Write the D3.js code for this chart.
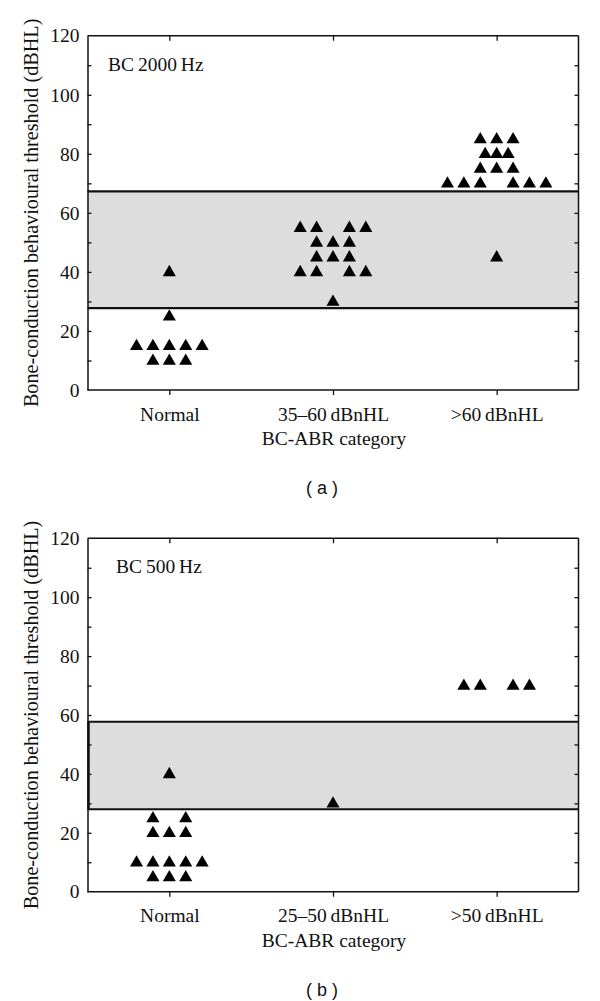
<!DOCTYPE html>
<html><head><meta charset="utf-8">
<script src="https://cdn.jsdelivr.net/npm/d3@7"></script>
<style>
body{margin:0;background:#fff}
svg{display:block}
text{font-family:"Liberation Serif","Times New Roman",serif;fill:#111}
</style></head>
<body>
<script>
// ---- data ----
const categoriesA = ["Normal", "35\u201360\u2009dBnHL", ">60\u2009dBnHL"];
const categoriesB = ["Normal", "25\u201350\u2009dBnHL", ">50\u2009dBnHL"];
const yTickValues = [0, 20, 40, 60, 80, 100, 120];
const yMinorTicks = [10, 30, 50, 70, 90, 110];
// [threshold dBHL, column slot within category]
const a_normal = [[40,0],[25,0],[15,-2],[15,-1],[15,0],[15,1],[15,2],[10,-1],[10,0],[10,1]];
const a_mid = [[55,-2],[55,-1],[55,1],[55,2],[50,-1],[50,0],[50,1],[45,-1],[45,0],[45,1],[40,-2],[40,-1],[40,1],[40,2],[30,0]];
const a_high = [[85,-1],[85,0],[85,1],[80,-0.7],[80,0],[80,0.7],[75,-1],[75,0],[75,1],[70,-3],[70,-2],[70,-1],[70,1],[70,2],[70,3],[45,0]];
const b_normal = [[40,0],[25,-1],[25,1],[20,-1],[20,0],[20,1],[10,-2],[10,-1],[10,0],[10,1],[10,2],[5,-1],[5,0],[5,1]];
const b_mid = [[30,0]];
const b_high = [[70,-2],[70,-1],[70,1],[70,2]];
const a_band = [27.7, 67.3];
const b_band = [28, 57.7];

const W = 600, H = 1001;
const svg = d3.select("body").append("svg").attr("width", W).attr("height", H);

function panel(opts) {
  const {top, bottom, cats, groups, band, title, label, leftBandEdge} = opts;
  const left = 87.5, right = 578.5;
  const x = d3.scalePoint().domain(cats).range([left, right]).padding(0.5);
  const y = d3.scaleLinear().domain([0, 120]).range([bottom, top]);
  const slot = d3.scaleLinear().domain([-1, 1]).range([-16.4, 16.4]);
  const g = svg.append("g");

  // band
  g.append("rect").attr("x", left).attr("y", y(band[1]))
    .attr("width", right - left).attr("height", y(band[0]) - y(band[1]))
    .attr("fill", "#dddddd");
  band.forEach(v => g.append("line").attr("x1", left).attr("x2", right)
    .attr("y1", y(v)).attr("y2", y(v)).attr("stroke", "#111").attr("stroke-width", 2.2));
  if (leftBandEdge) g.append("line").attr("x1", left + 1).attr("x2", left + 1)
    .attr("y1", y(band[1])).attr("y2", y(band[0])).attr("stroke", "#111").attr("stroke-width", 2.5);

  // axes
  const axL = g.append("g").attr("transform", `translate(${left},0)`)
    .call(d3.axisLeft(y).tickValues(yTickValues).tickSize(0).tickPadding(8).tickFormat(d3.format("d")));
  axL.selectAll("text").style("font-size", "19.5px").style("font-family", "Liberation Serif, serif").attr("fill", "#111");
  axL.select(".domain").attr("stroke", "#111").attr("stroke-width", 1.5);
  const allY = yTickValues.concat(yMinorTicks).filter(v => v > 0 && v < 120);
  g.append("g").attr("transform", `translate(${left},0)`)
    .call(d3.axisRight(y).tickValues(allY).tickSize(4).tickFormat(""))
    .call(s => { s.select(".domain").remove(); s.selectAll("line").attr("stroke", "#111").attr("stroke-width", 1.3); });
  g.append("g").attr("transform", `translate(${right},0)`)
    .call(d3.axisLeft(y).tickValues(allY).tickSize(4).tickFormat(""))
    .call(s => { s.select(".domain").attr("stroke", "#111").attr("stroke-width", 1.5).attr("d", `M0,${top}V${bottom}`); s.selectAll("line").attr("stroke", "#111").attr("stroke-width", 1.3); });
  const axB = g.append("g").attr("transform", `translate(0,${bottom})`)
    .call(d3.axisBottom(x).tickSize(5).tickPadding(8));
  axB.select(".domain").attr("stroke", "#111").attr("stroke-width", 1.5).attr("d", `M${left},0H${right}`);
  axB.selectAll("line").attr("stroke", "#111").attr("stroke-width", 1.3);
  axB.selectAll("text").style("font-size", "19.5px").style("font-family", "Liberation Serif, serif").attr("fill", "#111").attr("dy", "0.9em");
  const axT = g.append("g").attr("transform", `translate(0,${top})`)
    .call(d3.axisBottom(x).tickSize(5).tickFormat(""));
  axT.select(".domain").attr("stroke", "#111").attr("stroke-width", 1.5).attr("d", `M${left},0H${right}`);
  axT.selectAll("line").attr("stroke", "#111").attr("stroke-width", 1.3);

  // points
  const tri = d3.symbol(d3.symbolTriangle, 74);
  groups.forEach((pts, i) => {
    g.append("g").selectAll("path").data(pts).join("path")
      .attr("d", tri)
      .attr("transform", d => `translate(${x(cats[i]) + slot(d[1])},${y(d[0]) + 0.5})`)
      .attr("fill", "#000");
  });

  // texts
  g.append("text").attr("x", opts.titleX).attr("y", top + 35).text(title).style("font-size", "19.5px");
  g.append("text").attr("transform", `translate(38,${(top + bottom) / 2}) rotate(-90)`)
    .attr("text-anchor", "middle").style("font-size", "20.2px")
    .text("Bone-conduction behavioural threshold (dBHL)");
  g.append("text").attr("x", (left + right) / 2 + 1).attr("y", bottom + 55).attr("text-anchor", "middle")
    .style("font-size", "19.5px").text("BC-ABR category");
  g.append("text").attr("x", 322).attr("y", bottom + 104).attr("text-anchor", "middle")
    .style("font-family", "Liberation Sans, Arial, sans-serif").style("font-size", "18px")
    .attr("xml:space", "preserve").text(label);
}

panel({top: 35.7, bottom: 390, cats: categoriesA, groups: [a_normal, a_mid, a_high],
  band: a_band, title: "BC\u20092000\u2009Hz", titleX: 108, label: "( a )", leftBandEdge: false});
panel({top: 538.3, bottom: 891.7, cats: categoriesB, groups: [b_normal, b_mid, b_high],
  band: b_band, title: "BC\u2009500\u2009Hz", titleX: 116, label: "( b )", leftBandEdge: true});
</script>
</body></html>
